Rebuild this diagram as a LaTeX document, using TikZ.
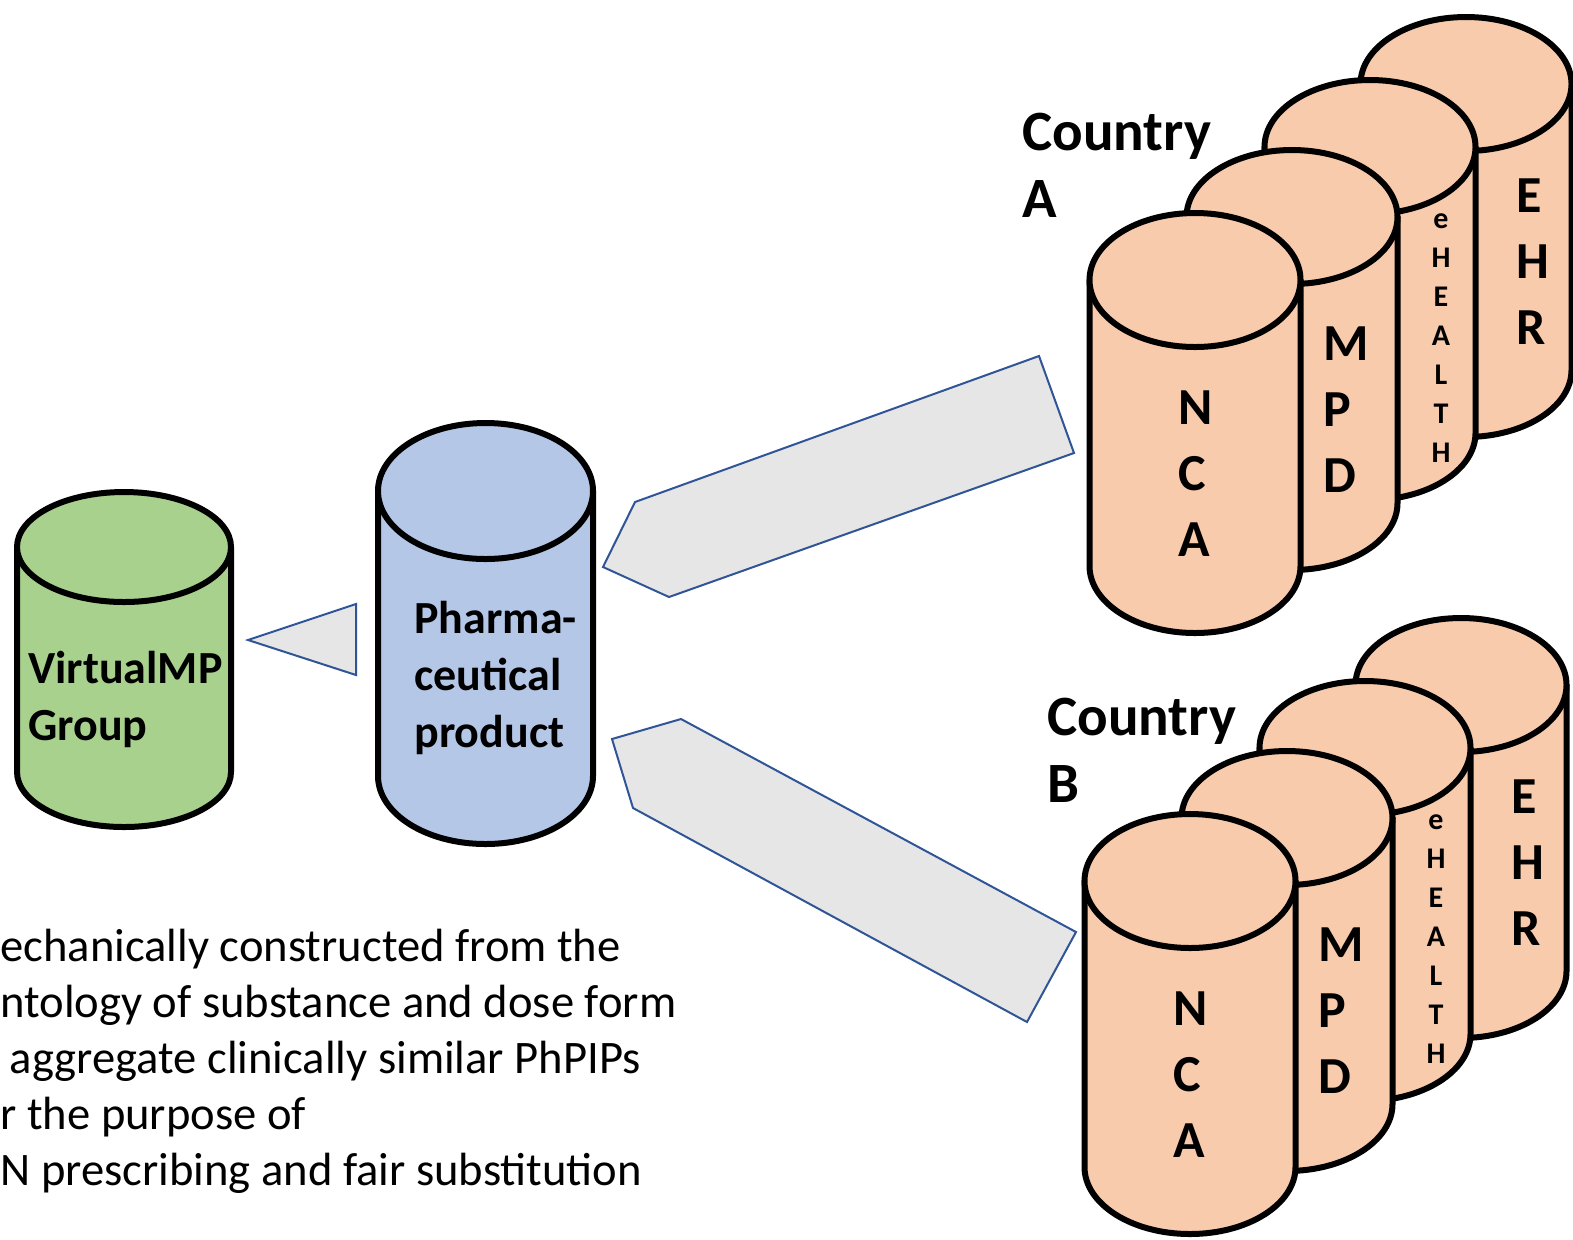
\documentclass[tikz,border=0pt]{standalone}
\usepackage{fontspec}
\setmainfont{Carlito}
\usetikzlibrary{calc}
\usepackage{xcolor}
\definecolor{vmpgreen}{HTML}{A9D18E}
\definecolor{phpblue}{HTML}{B4C7E7}
\definecolor{dborange}{HTML}{F8CBAD}
\definecolor{arrowgray}{HTML}{E7E6E6}
\definecolor{arrowblue}{HTML}{2F5597}
\tikzset{
  cylline/.style={draw=black, line width=3pt, line join=round},
  blockarrow/.style={draw=arrowblue, fill=arrowgray, line width=1pt},
  cyllabel/.style={font=\bfseries\fontsize{23}{28.5}\selectfont, align=left, inner sep=0pt, anchor=base west},
  countrylabel/.style={font=\bfseries\fontsize{28.5}{33.5}\selectfont, align=left, inner sep=0pt, anchor=base west},
  stacklabel/.style={font=\bfseries\fontsize{26}{33}\selectfont, align=left, inner sep=0pt, anchor=base west},
  smallstack/.style={font=\bfseries\fontsize{15}{19.5}\selectfont, align=center, inner sep=0pt, anchor=base},
  notetext/.style={font=\fontsize{23.3}{28}\selectfont, align=left, inner sep=0pt, anchor=base west}
}
% cylinder: centre x, centre y of top, x radius, y radius, height, fill
\newcommand{\dbcyl}[6]{%
  \draw[cylline, fill=#6] (#1-#3,#2) -- (#1-#3,#2+#5) arc (180:0:#3 and #4) -- (#1+#3,#2) -- cycle;
  \draw[cylline, fill=#6] (#1,#2) ellipse (#3 and #4);
}
% one country: EHR, eHEALTH, MPD, NCA from back to front
% (labels sit on the baseline of their last line)
\newcommand{\countrystack}[1]{%
  \dbcyl{1466}{84}{105.5}{67}{286}{dborange}
  \node[stacklabel] (ehr#1) at (1516,344) {E\\H\\R};
  \dbcyl{1370}{147}{105.5}{67}{286}{dborange}
  \node[smallstack] (ehealth#1) at (1441,462) {e\\H\\E\\A\\L\\T\\H};
  \dbcyl{1292}{217}{105.5}{67}{286}{dborange}
  \node[stacklabel] (mpd#1) at (1323,492) {M\\P\\D};
  \dbcyl{1195}{280}{105.5}{67}{286}{dborange}
  \node[stacklabel] (nca#1) at (1178,556) {N\\C\\A};
}

\begin{document}
\begin{tikzpicture}[x=0.5pt, y=-0.5pt]
  \useasboundingbox (0,0) rectangle (1573,1239);

  % block arrows
  \draw[blockarrow] (1039,356) -- (1074,453) -- (669,597) -- (603,567) -- (635,502) -- cycle;
  \draw[blockarrow] (681,719) -- (1076,932) -- (1027,1022) -- (633,808) -- (612,739) -- cycle;
  \draw[blockarrow] (248,640) -- (356,604) -- (356,675) -- cycle;

  % left side
  \dbcyl{124}{547}{107}{55}{225}{vmpgreen}
  \node[cyllabel] (vmp) at (28,740) {VirtualMP\\Group};
  \dbcyl{485.5}{491}{107.5}{68}{285}{phpblue}
  \node[cyllabel] (php) at (414,747) {Pharma-\\ceutical\\product};

  % countries
  \begin{scope}
    \countrystack{A}
  \end{scope}
  \begin{scope}[shift={(-5,601)}]
    \countrystack{B}
  \end{scope}
  \node[countrylabel] (countryA) at (1022,217) {Country\\A};
  \node[countrylabel] (countryB) at (1047,802) {Country\\B};

  \node[notetext] (note) at (0,1185) {echanically constructed from the\\ntology of substance and dose form\\\hspace*{12\pgflinewidth}aggregate clinically similar PhPIPs\\r the purpose of\\N prescribing and fair substitution};
\end{tikzpicture}
\end{document}
